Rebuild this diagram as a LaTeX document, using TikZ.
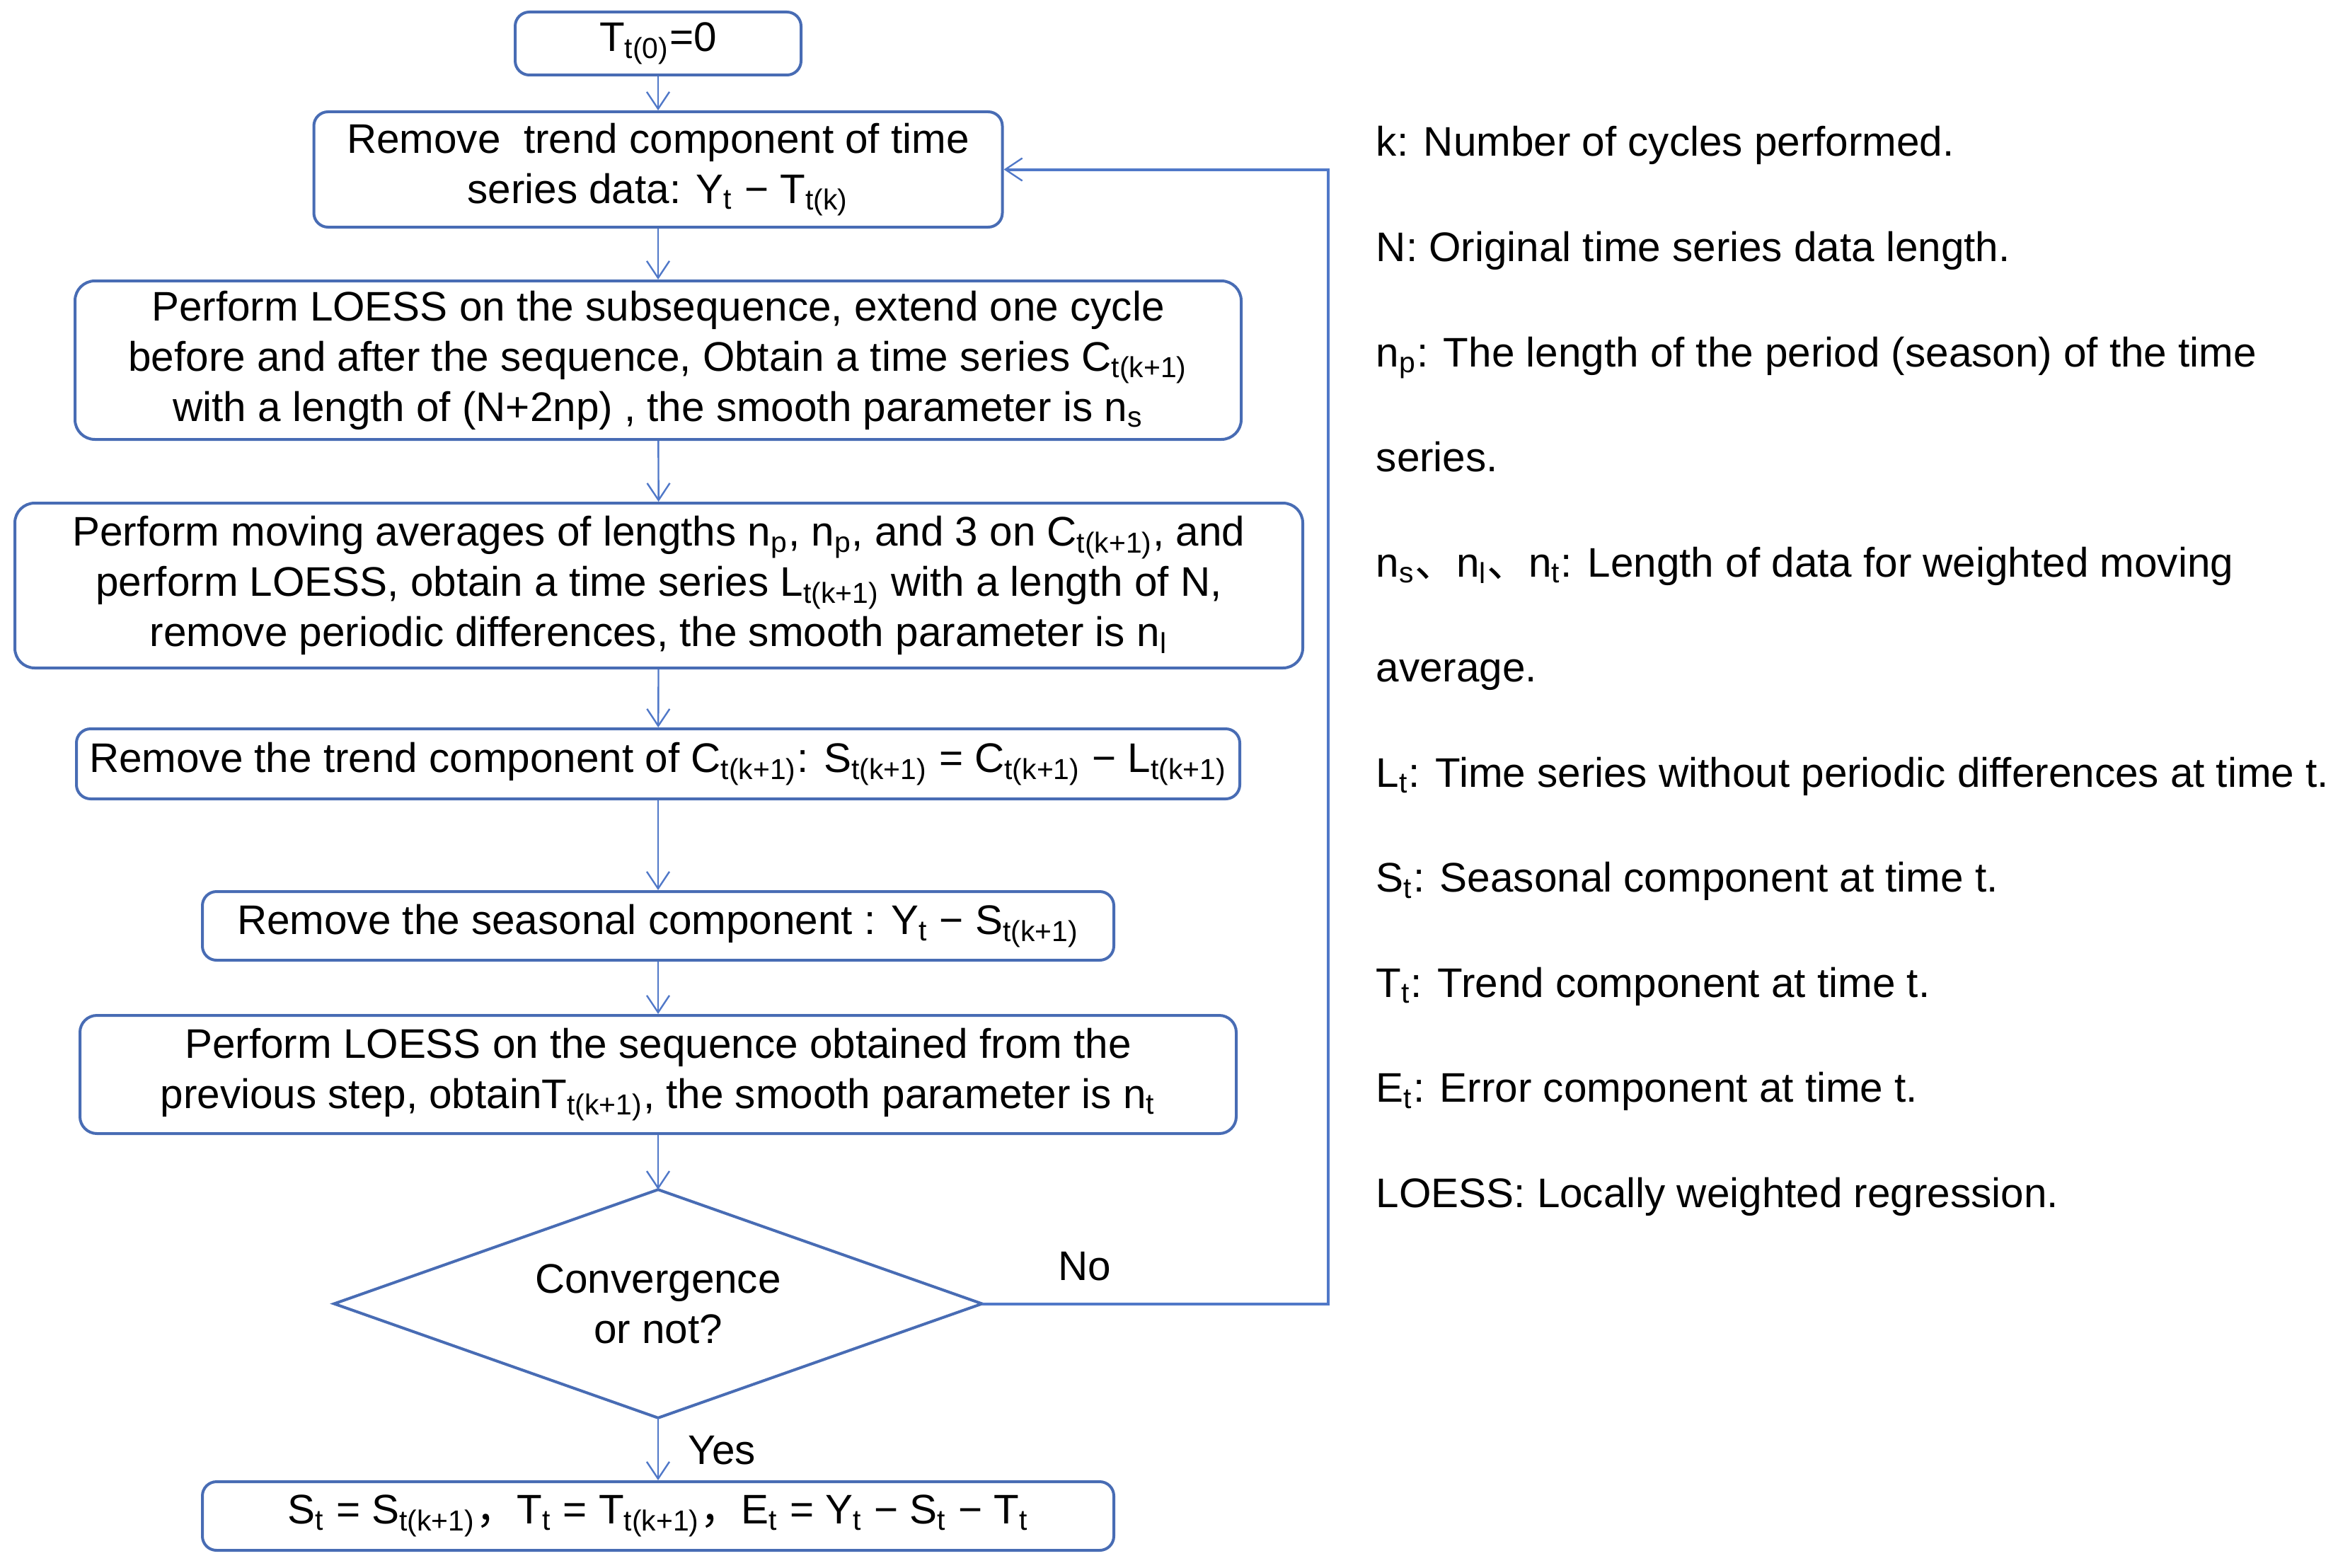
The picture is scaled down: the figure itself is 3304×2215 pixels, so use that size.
\documentclass[tikz,border=0pt]{standalone}
\usepackage{fontspec}
\setmainfont{Liberation Sans}
\newfontfamily\cjk{Noto Sans CJK SC}
\usetikzlibrary{arrows.meta}
\definecolor{boxblue}{RGB}{72,108,180}
\definecolor{lineblue}{RGB}{80,120,200}
\newcommand{\sub}[1]{\textsubscript{#1}}
\begin{document}
\begin{tikzpicture}[x=0.25pt,y=-0.25pt,
  txt/.style={font=\fontsize{14.6pt}{17.75pt}\selectfont},
  stepbox/.style={txt,draw=boxblue,line width=1pt,rounded corners=5pt,align=center,inner sep=0pt,fill=white},
  decbox/.style={txt,align=center,inner sep=0pt,minimum width=228.5pt,minimum height=80.25pt},
  decline/.style={draw=boxblue,line width=1pt},
  conn/.style={draw=lineblue,line width=0.6pt,-{Straight Barb[length=6pt,width=8pt,line width=0.6pt]}},
  legend/.style={txt,anchor=base west,inner sep=0pt}]
\useasboundingbox (0,0) rectangle (3304,2215);
\node[stepbox,minimum width=101pt,minimum height=22.25pt] (b1) at (930,61.5) {T\sub{t(0)}=0};
\node[stepbox,minimum width=243.25pt,minimum height=40.75pt] (b2) at (930,239.5) {Remove~ trend component of time\\series data: Y\sub{t} − T\sub{t(k)}};
\node[stepbox,minimum width=412pt,minimum height=56pt,rounded corners=7pt] (b3) at (930,509) {Perform LOESS on the subsequence, extend one cycle\\before and after the sequence, Obtain a time series C\sub{t(k+1)}\\with a length of (N+2np) , the smooth parameter is n\sub{s}};
\node[stepbox,minimum width=455pt,minimum height=58.25pt,rounded corners=7pt] (b4) at (931,827.5) {Perform moving averages of lengths n\sub{p}, n\sub{p}, and 3 on C\sub{t(k+1)}, and\\perform LOESS, obtain a time series L\sub{t(k+1)} with a length of N,\\remove periodic differences, the smooth parameter is n\sub{l}};
\node[stepbox,minimum width=411pt,minimum height=24.75pt] (b5) at (930,1079.5) {Remove the trend component of C\sub{t(k+1)}: S\sub{t(k+1)} = C\sub{t(k+1)} − L\sub{t(k+1)}};
\node[stepbox,minimum width=322pt,minimum height=24.25pt] (b6) at (930,1308.5) {Remove the seasonal component : Y\sub{t} − S\sub{t(k+1)}};
\node[stepbox,minimum width=408.5pt,minimum height=41.75pt,rounded corners=6pt] (b7) at (930,1518.5) {Perform LOESS on the sequence obtained from the\\previous step, obtainT\sub{t(k+1)}, the smooth parameter is n\sub{t}};
\node[decbox] (dec) at (930,1842.5) {Convergence\\or not?};
\draw[decline] (dec.north) -- (dec.east) -- (dec.south) -- (dec.west) -- cycle;
\node[stepbox,minimum width=322pt,minimum height=24.25pt] (b8) at (930,2142.5) {S\sub{t} = S\sub{t(k+1)}{\cjk ，}T\sub{t} = T\sub{t(k+1)}{\cjk ，}E\sub{t} = Y\sub{t} − S\sub{t} − T\sub{t}};
\coordinate (loopx) at (1877,0);
\draw[conn] (b1) -- (b2);
\draw[conn] (b2) -- (b3);
\draw[conn] (b3) -- (b4);
\draw[conn] (b4) -- (b5);
\draw[conn] (b5) -- (b6);
\draw[conn] (b6) -- (b7);
\draw[conn] (b7) -- (dec.north);
\draw[conn] (dec.south) -- (b8);
\draw[conn,line width=1pt] (dec.east) -- (dec.east -| loopx) -- (b2.east -| loopx) -- (b2.east);
\node[txt] (no) at (1533,1790) {No};
\node[txt] (yes) at (1020,2050) {Yes};
\node[legend] (l1) at (1944,221) {k: Number of cycles performed.};
\node[legend] (l2) at (1944,369.5) {N: Original time series data length.};
\node[legend] (l3) at (1944,518) {n\sub{p}: The length of the period (season) of the time};
\node[legend] (l4) at (1944,666.5) {series.};
\node[legend] (l5) at (1944,815) {n\sub{s}{\cjk 、}n\sub{l}{\cjk 、}n\sub{t}: Length of data for weighted moving};
\node[legend] (l6) at (1944,963.5) {average.};
\node[legend] (l7) at (1944,1112) {L\sub{t}: Time series without periodic differences at time t.};
\node[legend] (l8) at (1944,1260.5) {S\sub{t}: Seasonal component at time t.};
\node[legend] (l9) at (1944,1409) {T\sub{t}: Trend component at time t.};
\node[legend] (l10) at (1944,1557.5) {E\sub{t}: Error component at time t.};
\node[legend] (l11) at (1944,1706) {LOESS: Locally weighted regression.};
\end{tikzpicture}
\end{document}
